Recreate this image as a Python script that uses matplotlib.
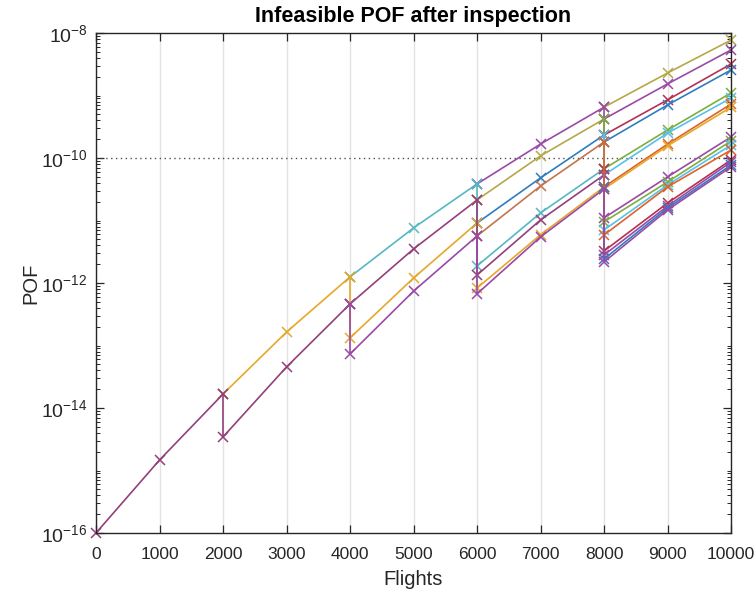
import matplotlib
matplotlib.use('Agg')
import matplotlib.pyplot as plt
from matplotlib.ticker import LogLocator, NullFormatter, FixedLocator

plt.rcParams['font.family'] = ['Liberation Sans', 'DejaVu Sans']
plt.rcParams['mathtext.fontset'] = 'custom'
plt.rcParams['mathtext.rm'] = 'Liberation Sans'

# flights between two inspections, inspection times
step = 1000
inspections = [2000, 4000, 6000, 8000]

# POF from 0 to the first inspection
flights_start = [0, 1000, 2000]
pof_start = [1e-16, 1.47e-15, 1.67e-14]

# each branch: key = decision at every inspection so far (N = not inspected, I = inspected)
# values = POF just after the inspection, +1000 flights, +2000 flights
pof_stage1 = {
    'N': [1.67e-14, 1.64e-13, 1.25e-12],
    'I': [3.44e-15, 4.53e-14, 4.61e-13],
}
pof_stage2 = {
    'NN': [1.25e-12, 7.6e-12, 3.84e-11],
    'IN': [4.61e-13, 3.5e-12, 2.13e-11],
    'NI': [1.32e-13, 1.2e-12, 9.1e-12],
    'II': [7.3e-14, 7.4e-13, 5.65e-12],
}
pof_stage3 = {
    'NNN': [3.84e-11, 1.67e-10, 6.5e-10],
    'INN': [2.13e-11, 1.08e-10, 4.2e-10],
    'NIN': [9.1e-12, 4.8e-11, 2.33e-10],
    'IIN': [5.65e-12, 3.56e-11, 1.8e-10],
    'NNI': [1.87e-12, 1.32e-11, 6.7e-11],
    'NII': [8.3e-13, 5.9e-12, 3.44e-11],
    'INI': [1.34e-12, 1.02e-11, 5.35e-11],
    'III': [6.7e-13, 5.45e-12, 3.19e-11],
}
pof_stage4 = {
    'NNNN': [6.5e-10, 2.29e-9, 7.7e-9],
    'INNN': [4.2e-10, 1.53e-9, 5.35e-9],
    'NINN': [2.33e-10, 8.5e-10, 3.19e-9],
    'IINN': [1.8e-10, 7.05e-10, 2.56e-9],
    'NNIN': [6.7e-11, 2.8e-10, 1.1e-9],
    'ININ': [5.35e-11, 2.5e-10, 9.1e-10],
    'NIIN': [3.44e-11, 1.67e-10, 7.3e-10],
    'IIIN': [3.19e-11, 1.56e-10, 6.5e-10],
    'NNNI': [1.1e-11, 4.97e-11, 2.17e-10],
    'INNI': [9.5e-12, 4.13e-11, 1.87e-10],
    'NINI': [7.05e-12, 3.7e-11, 1.61e-10],
    'NNII': [3.25e-12, 1.9e-11, 9.3e-11],
    'INII': [2.8e-12, 1.7e-11, 8.6e-11],
    'NIII': [2.42e-12, 1.58e-11, 7.7e-11],
    'IINI': [5.86e-12, 3.44e-11, 1.34e-10],
    'IIII': [2.17e-12, 1.47e-11, 7.2e-11],
}
threshold = 1e-10

# colours
blue = '#2F7DC0'
orange = '#DC6428'
yellow = '#E5A82A'
purple = '#9A4AA6'
green = '#7DAF3C'
lightblue = '#58C0EC'
red = '#B43250'
maroon = '#93407A'
teal = '#55B8C4'
olive = '#B5A848'
brown = '#C27550'

start_color = maroon
colors = {
    'N': yellow, 'I': maroon,
    'NN': teal, 'IN': maroon, 'NI': yellow, 'II': purple,
    'NNN': purple, 'INN': olive, 'NIN': blue, 'IIN': brown,
    'NNI': teal, 'NII': yellow, 'INI': maroon, 'III': purple,
    'NNNN': olive, 'INNN': purple, 'NINN': red, 'IINN': blue,
    'NNIN': green, 'ININ': lightblue, 'NIIN': orange, 'IIIN': yellow,
    'NNNI': purple, 'INNI': green, 'NINI': lightblue, 'NNII': red,
    'INII': purple, 'NIII': blue, 'IINI': orange, 'IIII': purple,
}

fig = plt.figure(figsize=(7.55, 5.94), dpi=100)
ax = fig.add_axes([96/755, 61/594, 635/755, 500/594])

ax.set_yscale('log')
ax.grid(True, axis='x', color='#e2e2e2', linewidth=1)
ax.set_axisbelow(True)

ax.axhline(threshold, color='#505050', linestyle=(0, (1, 2.5)), linewidth=1, zorder=1)

mk = dict(marker='x', markersize=7, markeredgewidth=1.1, linewidth=1.2, clip_on=False)
ax.plot(flights_start, pof_start, color=start_color, **mk)

end_value = {'': pof_start[-1]}
for t, stage in zip(inspections, [pof_stage1, pof_stage2, pof_stage3, pof_stage4]):
    for key, vals in stage.items():
        parent = end_value[key[:-1]]
        if key[-1] == 'I':
            xs = [t, t, t + step, t + 2 * step]
            ys = [parent] + vals
        else:
            xs = [t, t + step, t + 2 * step]
            ys = vals
        ax.plot(xs, ys, color=colors[key], **mk)
        end_value[key] = vals[-1]

ax.set_xlim(0, 10000)
ax.set_ylim(1e-16, 1e-8)
ax.set_xticks(range(0, 10001, 1000))
ax.yaxis.set_major_locator(FixedLocator([1e-16, 1e-14, 1e-12, 1e-10, 1e-8]))
ax.yaxis.set_minor_locator(LogLocator(base=10, subs=range(1, 10), numticks=50))
ax.yaxis.set_minor_formatter(NullFormatter())
ax.set_yticklabels([r'$\mathregular{10^{%d}}$' % e for e in [-16, -14, -12, -10, -8]])

ax.tick_params(which='both', direction='in', top=True, right=True, colors='#262626')
ax.tick_params(axis='x', labelsize=12.5, pad=10)
ax.tick_params(axis='y', labelsize=14, pad=6)
ax.tick_params(which='major', length=6, width=0.9)
ax.tick_params(which='minor', length=3, width=0.7)
for s in ax.spines.values():
    s.set_color('#262626')
    s.set_linewidth(1)

ax.set_xlabel('Flights', fontsize=14.5, color='#262626', labelpad=6)
ax.set_ylabel('POF', fontsize=14.5, color='#262626')
ax.yaxis.set_label_coords(-0.088, 0.5)
ax.set_title('Infeasible POF after inspection', fontsize=15.5, fontweight='bold', pad=8)

fig.savefig('out.png', dpi=100)
